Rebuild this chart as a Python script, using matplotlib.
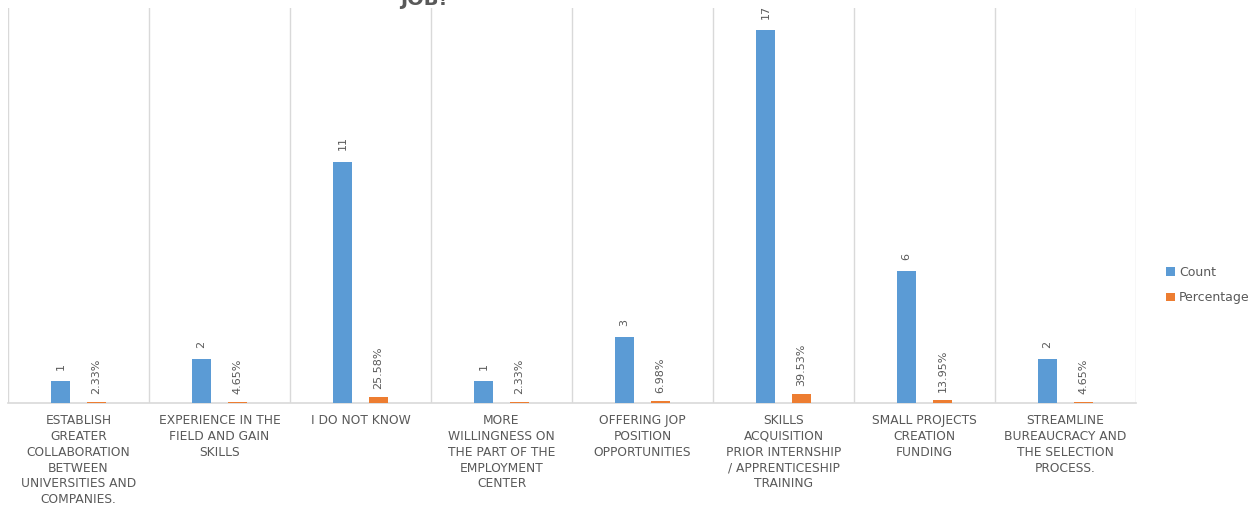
import matplotlib
matplotlib.use("Agg")
import matplotlib.pyplot as plt
import numpy as np

categories = [
    "ESTABLISH\nGREATER\nCOLLABORATION\nBETWEEN\nUNIVERSITIES AND\nCOMPANIES.",
    "EXPERIENCE IN THE\nFIELD AND GAIN\nSKILLS",
    "I DO NOT KNOW",
    "MORE\nWILLINGNESS ON\nTHE PART OF THE\nEMPLOYMENT\nCENTER",
    "OFFERING JOP\nPOSITION\nOPPORTUNITIES",
    "SKILLS\nACQUISITION\nPRIOR INTERNSHIP\n/ APPRENTICESHIP\nTRAINING",
    "SMALL PROJECTS\nCREATION\nFUNDING",
    "STREAMLINE\nBUREAUCRACY AND\nTHE SELECTION\nPROCESS.",
]
count = [1, 2, 11, 1, 3, 17, 6, 2]
percentage = [0.0233, 0.0465, 0.2558, 0.0233, 0.0698, 0.3953, 0.1395, 0.0465]
pct_labels = ["2.33%", "4.65%", "25.58%", "2.33%", "6.98%", "39.53%", "13.95%", "4.65%"]

blue = "#5B9BD5"
orange = "#ED7D31"
gray = "#595959"
grid = "#D9D9D9"

fig = plt.figure(figsize=(12.52, 5.07), dpi=100)
ax = fig.add_axes([8 / 1252, 1 - 403 / 507, 1128 / 1252, 395 / 507])

x = np.arange(len(categories))
w = 0.135
off = 0.128
b1 = ax.bar(x - off, count, w, color=blue, label="Count", zorder=3)
b2 = ax.bar(x + off, percentage, w, color=orange, label="Percentage", zorder=3)

for xi, v in zip(x, count):
    ax.annotate(str(v), (xi - off, v), xytext=(0, 8), textcoords="offset points",
                rotation=90, ha="center", va="bottom", fontsize=8, color=gray)
for xi, v, lab in zip(x, percentage, pct_labels):
    ax.annotate(lab, (xi + off, v), xytext=(0, 6), textcoords="offset points",
                rotation=90, ha="center", va="bottom", fontsize=8, color=gray)

ax.set_xlim(-0.5, len(categories) - 0.5)
ax.set_ylim(0, 18)
for b in np.arange(-0.5, len(categories), 1.0):
    ax.axvline(b, color=grid, lw=1, zorder=1)
for s in ["top", "right", "left"]:
    ax.spines[s].set_visible(False)
ax.spines["bottom"].set_color(grid)
ax.spines["bottom"].set_linewidth(1.2)
ax.set_yticks([])
ax.set_xticks(x)
ax.set_xticklabels(categories, fontsize=8.8, color=gray, linespacing=1.28,
                   va="top", ha="center")
ax.tick_params(axis="x", length=0, pad=8)

fig.legend(handles=[b1, b2], labels=["Count", "Percentage"],
           loc="center left", bbox_to_anchor=(1155 / 1252, 1 - 285 / 507),
           frameon=False, fontsize=9, handlelength=0.7, handleheight=0.7,
           handletextpad=0.3, labelspacing=1.0, labelcolor=gray)

fig.text(424 / 1252, 1 - 5 / 507, "JOB!", ha="center", va="baseline",
         fontsize=14, fontweight="bold", color=gray)

fig.savefig("out.png", dpi=100)
